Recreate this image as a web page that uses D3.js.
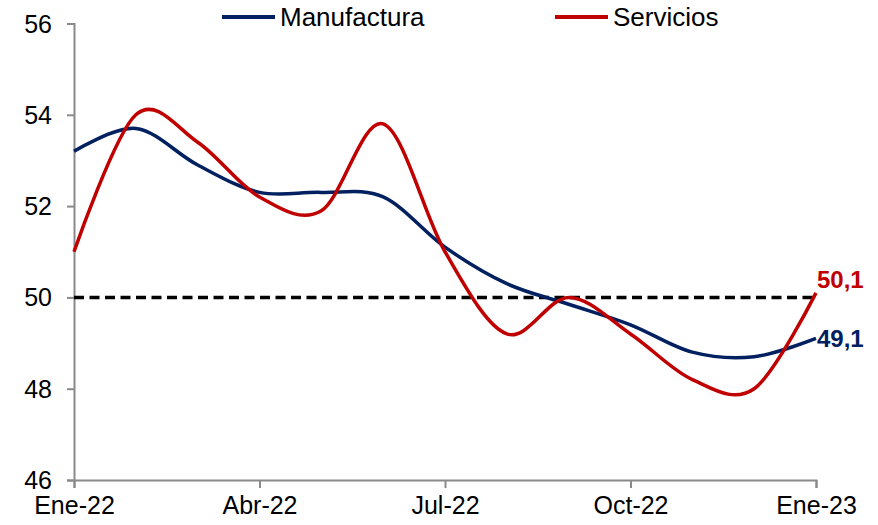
<!DOCTYPE html>
<html>
<head>
<meta charset="utf-8">
<title>Manufactura y Servicios</title>
<style>
  body { margin: 0; background: #fff; }
  svg { font-family: "Liberation Sans", Arial, sans-serif; }
</style>
<script src="https://d3js.org/d3.v7.min.js"></script>
</head>
<body>
<svg></svg>
<script>
const months = ["Ene-22", "Feb-22", "Mar-22", "Abr-22", "May-22", "Jun-22", "Jul-22",
                "Ago-22", "Sep-22", "Oct-22", "Nov-22", "Dic-22", "Ene-23"];
const manufactura = [53.2, 53.7, 52.9, 52.3, 52.3, 52.2, 51.1, 50.3, 49.85, 49.4, 48.8, 48.7, 49.1];
const servicios = [51.0, 54.0, 53.4, 52.2, 51.9, 53.8, 51.0, 49.2, 50.0, 49.2, 48.2, 48.0, 50.1];
const tickMonths = ["Ene-22", "Abr-22", "Jul-22", "Oct-22", "Ene-23"];
const yTicks = [46, 48, 50, 52, 54, 56];
const threshold = 50;

const width = 878, height = 525;
const margin = {top: 23.5, right: 62, bottom: 45, left: 74};

const svg = d3.select("svg").attr("width", width).attr("height", height);

const x = d3.scalePoint().domain(months).range([margin.left, width - margin.right]);
const y = d3.scaleLinear().domain([46, 56]).range([height - margin.bottom, margin.top]);

const axisColor = "#8a8a8a";

// y axis
const yAxis = svg.append("g")
  .attr("transform", "translate(" + margin.left + ",0)")
  .call(d3.axisLeft(y).tickValues(yTicks).tickSize(7).tickPadding(15));
// x axis
const xAxis = svg.append("g")
  .attr("transform", "translate(0," + (height - margin.bottom) + ")")
  .call(d3.axisBottom(x).tickValues(tickMonths).tickSize(8).tickPadding(8));

[yAxis, xAxis].forEach(a => {
  a.select(".domain").attr("stroke", axisColor).attr("stroke-width", 2);
  a.selectAll(".tick line").attr("stroke", axisColor).attr("stroke-width", 2);
  a.selectAll("text").attr("fill", "#000").style("font-size", "25px")
    .style("font-family", '"Liberation Sans", Arial, sans-serif');
});
yAxis.selectAll("text").attr("dy", "0.34em");
xAxis.selectAll("text").attr("dy", "0.71em");

// threshold line
svg.append("line")
  .attr("x1", x(months[0])).attr("x2", x(months[months.length - 1]))
  .attr("y1", y(threshold)).attr("y2", y(threshold))
  .attr("stroke", "#000").attr("stroke-width", 3.5)
  .attr("stroke-dasharray", "10,5.5");

const line = d3.line()
  .x((d, i) => x(months[i]))
  .y(d => y(d))
  .curve(d3.curveCardinal.tension(0));

const series = [
  {name: "Manufactura", values: manufactura, color: "#002060"},
  {name: "Servicios", values: servicios, color: "#C00000"}
];

series.forEach(s => {
  svg.append("path")
    .datum(s.values)
    .attr("fill", "none")
    .attr("stroke", s.color)
    .attr("stroke-width", 3.5)
    .attr("d", line);
});

// end labels
const lastX = x(months[months.length - 1]);
svg.append("text")
  .attr("x", lastX + 1).attr("y", y(servicios[servicios.length - 1]) - 5)
  .attr("fill", "#C00000").style("font-size", "24px").style("font-weight", "bold")
  .text(d3.format(".1f")(servicios[servicios.length - 1]).replace(".", ","));
svg.append("text")
  .attr("x", lastX + 1).attr("y", y(manufactura[manufactura.length - 1]) + 9)
  .attr("fill", "#002060").style("font-size", "24px").style("font-weight", "bold")
  .text(d3.format(".1f")(manufactura[manufactura.length - 1]).replace(".", ","));

// legend
const legendPos = [222, 555];
series.forEach((s, i) => {
  const g = svg.append("g").attr("transform", "translate(" + legendPos[i] + ",17)");
  g.append("line").attr("x1", 0).attr("x2", 53).attr("y1", 0).attr("y2", 0)
    .attr("stroke", s.color).attr("stroke-width", 4);
  g.append("text").attr("x", 58).attr("y", 8.5)
    .style("font-size", "26px").attr("fill", "#000").text(s.name);
});
</script>
</body>
</html>
